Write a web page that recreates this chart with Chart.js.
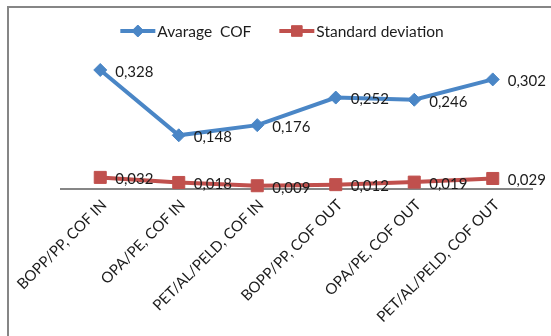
<!DOCTYPE html>
<html>
<head>
<meta charset="utf-8">
<script src="https://cdn.jsdelivr.net/npm/chart.js@4/dist/chart.umd.min.js"></script>
<style>
  html, body { margin: 0; padding: 0; background: #ffffff; }
  #wrap { width: 551px; height: 336px; position: relative; }
</style>
</head>
<body>
<div id="wrap"><canvas id="cof" width="551" height="336"></canvas></div>
<script>
// Packaging materials, inner and outer coefficient of friction
const categories = [
  'BOPP/PP, COF IN',
  'OPA/PE, COF IN',
  'PET/AL/PELD, COF IN',
  'BOPP/PP, COF OUT',
  'OPA/PE, COF OUT',
  'PET/AL/PELD, COF OUT'
];
const averageCof = [0.328, 0.148, 0.176, 0.252, 0.246, 0.302];
const stdDeviation = [0.032, 0.018, 0.009, 0.012, 0.019, 0.029];
const seriesNames = ['Avarage  COF', 'Standard deviation'];

const BLUE = '#4a86c6';
const RED = '#c0504d';
const TEXT = '#1c1c1c';
const FONT = 'Lato, "Open Sans", sans-serif';

const fmt = v => v.toFixed(3).replace('.', ',');

// Outer frame of the chart object (left and top edges)
const framePlugin = {
  id: 'frame',
  beforeDraw(chart) {
    const ctx = chart.ctx;
    ctx.save();
    ctx.fillStyle = '#ffffff';
    ctx.fillRect(0, 0, chart.width, chart.height);
    ctx.fillStyle = '#868686';
    ctx.fillRect(7, 6, chart.width, 2);
    ctx.fillRect(7, 6, 2, chart.height);
    ctx.restore();
  }
};

// Value labels to the right of each marker
const valueLabels = {
  id: 'valueLabels',
  afterDatasetsDraw(chart) {
    const ctx = chart.ctx;
    ctx.save();
    ctx.font = '15px ' + FONT;
    ctx.fillStyle = TEXT;
    ctx.textAlign = 'left';
    ctx.textBaseline = 'middle';
    chart.data.datasets.forEach((ds, i) => {
      const meta = chart.getDatasetMeta(i);
      meta.data.forEach((pt, j) => {
        ctx.fillText(fmt(ds.data[j]), pt.x + 15, pt.y + 2);
      });
    });
    ctx.restore();
  }
};

// Legend with a line segment and marker for each series
const lineLegend = {
  id: 'lineLegend',
  afterDraw(chart) {
    const ctx = chart.ctx;
    ctx.save();
    ctx.font = '15.5px ' + FONT;
    const sample = 35, gapText = 2, gapItem = 28;
    const items = chart.data.datasets.map(ds => ({
      ds, w: ctx.measureText(ds.label).width
    }));
    let total = 0;
    items.forEach((it, k) => {
      total += sample + gapText + it.w + (k < items.length - 1 ? gapItem : 0);
    });
    let x = 282 - total / 2;
    const y = 31;
    items.forEach(it => {
      const ds = it.ds;
      ctx.strokeStyle = ds.borderColor;
      ctx.lineWidth = 4;
      ctx.beginPath();
      ctx.moveTo(x, y);
      ctx.lineTo(x + sample, y);
      ctx.stroke();
      ctx.fillStyle = ds.pointBackgroundColor;
      ctx.strokeStyle = ds.pointBorderColor;
      ctx.lineWidth = 1;
      Chart.helpers.drawPoint(ctx, {
        pointStyle: ds.pointStyle,
        radius: ds.pointStyle === 'rect' ? 7.5 : 6,
        rotation: 0,
        borderWidth: 1
      }, x + sample / 2, y);
      ctx.fillStyle = TEXT;
      ctx.textAlign = 'left';
      ctx.textBaseline = 'middle';
      ctx.fillText(ds.label, x + sample + gapText, y + 1);
      x += sample + gapText + it.w + gapItem;
    });
    ctx.restore();
  }
};

new Chart(document.getElementById('cof'), {
  type: 'line',
  data: {
    labels: categories,
    datasets: [
      {
        label: seriesNames[0],
        data: averageCof,
        borderColor: BLUE,
        backgroundColor: BLUE,
        pointBackgroundColor: BLUE,
        pointBorderColor: BLUE,
        borderWidth: 4,
        pointStyle: 'rectRot',
        pointRadius: 6.5,
        pointBorderWidth: 1,
        tension: 0,
        clip: false
      },
      {
        label: seriesNames[1],
        data: stdDeviation,
        borderColor: RED,
        backgroundColor: RED,
        pointBackgroundColor: RED,
        pointBorderColor: RED,
        borderWidth: 4,
        pointStyle: 'rect',
        pointRadius: 8.5,
        pointBorderWidth: 1,
        tension: 0,
        clip: false
      }
    ]
  },
  options: {
    responsive: false,
    animation: false,
    devicePixelRatio: 1,
    layout: { padding: { top: 62, left: 61, right: 19, bottom: 0 } },
    plugins: {
      legend: { display: false },
      tooltip: { enabled: false }
    },
    scales: {
      x: {
        offset: true,
        grid: { display: false, drawTicks: false },
        border: { display: true, color: '#868686', width: 2 },
        ticks: {
          color: TEXT,
          font: { family: FONT, size: 15 },
          minRotation: 45,
          maxRotation: 45,
          padding: 7,
          labelOffset: 4,
          autoSkip: false
        },
        afterFit(scale) { scale.height = 147; }
      },
      y: {
        display: false,
        min: 0,
        max: 0.35
      }
    }
  },
  plugins: [framePlugin, valueLabels, lineLegend]
});
</script>
</body>
</html>
